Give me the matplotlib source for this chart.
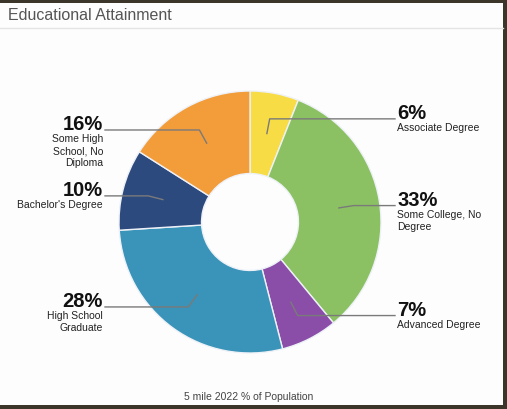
import numpy as np
import matplotlib
matplotlib.use("Agg")
import matplotlib.pyplot as plt
from matplotlib.patches import Rectangle

plt.rcParams['font.family'] = ['Liberation Sans', 'DejaVu Sans']

# data (clockwise from 12 o'clock)
categories = ["Associate Degree", "Some College, No\nDegree", "Advanced Degree",
              "High School\nGraduate", "Bachelor's Degree", "Some High\nSchool, No\nDiploma"]
shares = [6, 33, 7, 28, 10, 16]
colors = ["#F8DC45", "#8CC163", "#8A4EA8", "#3A93B8", "#2D4A7E", "#F39C3A"]
pct_labels = ["6%", "33%", "7%", "28%", "10%", "16%"]

W, H = 507, 409
fig = plt.figure(figsize=(W / 100, H / 100), dpi=100)
fig.patch.set_facecolor("#3b352a")

# working in pixel coords, y pointing down
ax = fig.add_axes([0, 0, 1, 1])

# white card
ax.add_patch(Rectangle((0, 3), 503, 402, facecolor="#fdfdfd", edgecolor="none", zorder=0))
ax.plot([0, 503], [28, 28], color="#e4e4e4", lw=1, zorder=1)
ax.text(8, 15, "Educational Attainment", fontsize=11.5, color="#555555", va="center", ha="left")

cx, cy, R = 250, 222, 131
wedges, _ = ax.pie(shares, colors=colors, startangle=-90, counterclock=True,
                   center=(cx, cy), radius=R, frame=True,
                   wedgeprops=dict(width=R * 0.63, edgecolor="#eef2f8", linewidth=1))
ax.set_xlim(0, W)
ax.set_ylim(H, 0)
ax.set_aspect("equal")
ax.axis("off")

for w, pct, name in zip(wedges, pct_labels, categories):
    mid = np.deg2rad((w.theta1 + w.theta2) / 2)
    sx, sy = cx + 90 * np.cos(mid), cy + 90 * np.sin(mid)
    ex, ey = cx + 105 * np.cos(mid), cy + 105 * np.sin(mid)
    right = np.cos(mid) > 0
    lx = 395 if right else 105
    ax.plot([sx, ex, lx], [sy, ey, ey], color="#7a7a7a", lw=1, zorder=3)
    tx = 397 if right else 103
    ha = "left" if right else "right"
    ax.text(tx, ey, pct, fontsize=14.5, fontweight="bold", color="#111111",
            ha=ha, va="baseline")
    ax.text(tx, ey + 4.5, name, fontsize=7.5, color="#222222", ha=ha, va="top",
            multialignment=ha, linespacing=1.25)

ax.text(249, 397, "5 mile 2022 % of Population", fontsize=7.5, color="#444444",
        ha="center", va="center")

fig.savefig("out.png", dpi=100, facecolor=fig.get_facecolor())
